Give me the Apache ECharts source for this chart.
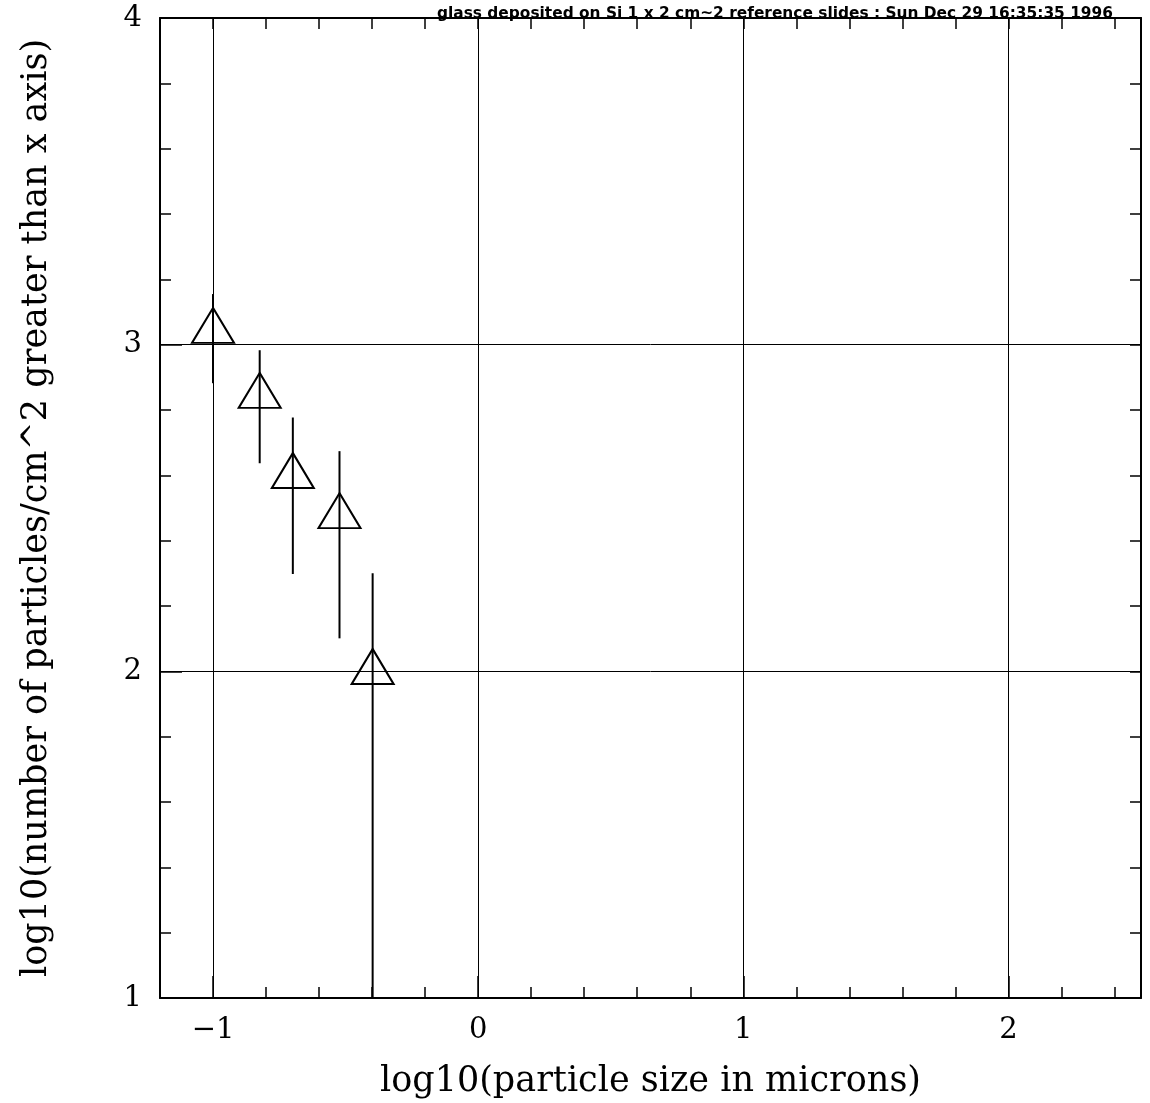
<!DOCTYPE html>
<html>
<head>
<meta charset="UTF-8">
<title>glass deposited on Si</title>
<script src="https://cdn.jsdelivr.net/npm/echarts@6/dist/echarts.min.js"></script>
<style>html,body{margin:0;padding:0;background:#fff;}</style>
</head>
<body>
<div id="main" style="width:1150px;height:1103px;"></div>
<script type="text/javascript">
// log10(particle size), log10(count) and error bar ends
var sizeLog = [-1.0, -0.824, -0.699, -0.523, -0.398];
var countLog = [3.042, 2.843, 2.598, 2.475, 1.998];
var countHi = [3.155, 2.983, 2.777, 2.674, 2.300];
var countLo = [2.882, 2.637, 2.298, 2.101, 1.0];
var xMajor = [-1, 0, 1, 2];
var yMajor = [1, 2, 3, 4];

var myChart = echarts.init(document.getElementById('main'));
var serif = 'DejaVu Serif';
var black = '#000';

function minorAxis(pos, min, max, line) {
	return {
		type: 'value', position: pos, min: min, max: max, interval: 0.2,
		axisLine: {show: line, onZero: false, lineStyle: {color: black, width: 2}},
		axisTick: {show: true, inside: true, length: 11, lineStyle: {color: black, width: 1.5}},
		axisLabel: {show: false},
		splitLine: {show: false}
	};
}

var option = {
	animation: false,
	backgroundColor: '#fff',
	title: {
		text: 'glass deposited on Si 1 x 2 cm~2 reference slides : Sun Dec 29 16:35:35 1996',
		right: 32, top: 1,
		textStyle: {fontFamily: 'DejaVu Sans', fontWeight: 'bold', fontSize: 15.4, color: black}
	},
	grid: {left: 160, right: 9, top: 18, bottom: 105, outerBoundsMode: 'none'},
	xAxis: [
		{
			type: 'value', position: 'bottom', min: -1.2, max: 2.5,
			name: 'log10(particle size in microns)', nameLocation: 'middle', nameGap: 66,
			nameTextStyle: {fontFamily: serif, fontSize: 35, color: black},
			axisLine: {onZero: false, lineStyle: {color: black, width: 2}},
			axisTick: {inside: true, length: 22, customValues: xMajor, lineStyle: {color: black, width: 1.5}},
			axisLabel: {
				customValues: xMajor, margin: 18, fontFamily: serif, fontSize: 29, color: black,
				formatter: function (v) { return v < 0 ? '\u2212' + (-v) : '' + v; }
			},
			splitLine: {show: true, lineStyle: {color: black, width: 1}}
		},
		minorAxis('bottom', -1.2, 2.5, false),
		minorAxis('top', -1.2, 2.5, true)
	],
	yAxis: [
		{
			type: 'value', position: 'left', min: 1, max: 4, interval: 1,
			name: 'log10(number of particles/cm^2 greater than x axis)', nameLocation: 'middle', nameGap: 106,
			nameTextStyle: {fontFamily: serif, fontSize: 35, color: black},
			axisLine: {onZero: false, lineStyle: {color: black, width: 2}},
			axisTick: {inside: true, length: 22, lineStyle: {color: black, width: 1.5}},
			axisLabel: {margin: 18, fontFamily: serif, fontSize: 29, color: black, showMinLabel: true, showMaxLabel: true},
			splitLine: {show: true, lineStyle: {color: black, width: 1}}
		},
		minorAxis('left', 1, 4, false),
		minorAxis('right', 1, 4, true)
	],
	series: [
		{
			type: 'custom',
			xAxisIndex: 0, yAxisIndex: 0,
			data: sizeLog.map(function (x, i) { return [x, countLo[i], countHi[i]]; }),
			encode: {x: 0, y: [1, 2]},
			renderItem: function (params, api) {
				var x = api.value(0);
				var lo = api.coord([x, api.value(1)]);
				var hi = api.coord([x, api.value(2)]);
				return {
					type: 'line',
					shape: {x1: hi[0], y1: hi[1], x2: lo[0], y2: lo[1]},
					style: {stroke: black, lineWidth: 2}
				};
			},
			z: 3
		},
		{
			type: 'scatter',
			xAxisIndex: 0, yAxisIndex: 0,
			data: sizeLog.map(function (x, i) { return [x, countLog[i]]; }),
			symbol: 'triangle',
			symbolSize: [42, 35],
			symbolOffset: [0, -5.5],
			itemStyle: {color: 'rgba(0,0,0,0)', borderColor: black, borderWidth: 2, opacity: 1},
			emphasis: {disabled: true},
			z: 4
		}
	]
};
myChart.setOption(option);
</script>
</body>
</html>
